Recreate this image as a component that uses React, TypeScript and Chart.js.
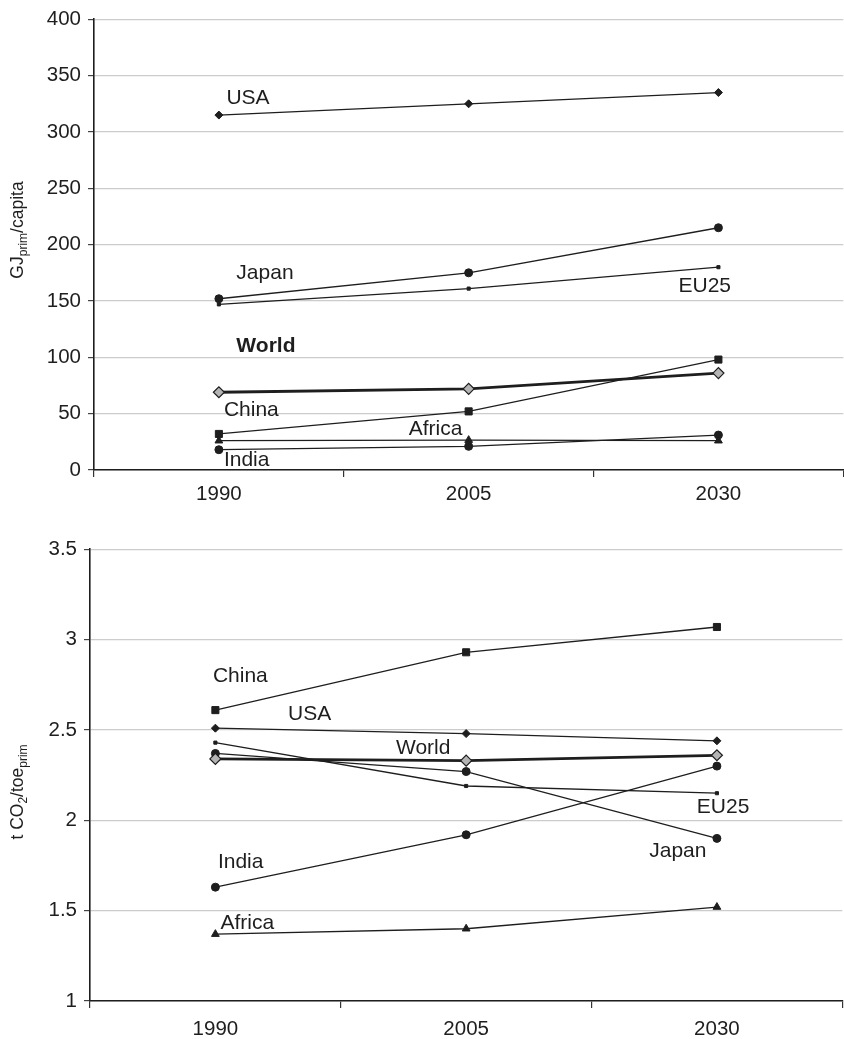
import React, { useEffect, useRef } from "react";
import { Chart, registerables } from "chart.js";
Chart.register(...registerables);

const years = ["1990", "2005", "2030"];
const regionNames = ["USA", "Japan", "EU25", "World", "China", "Africa", "India"];

// Top panel: primary energy per capita (GJ_prim/capita)
const energyUSA = [315, 325, 335];
const energyJapan = [152, 175, 215];
const energyEU25 = [147, 161, 180];
const energyWorld = [69, 72, 86];
const energyChina = [32, 52, 98];
const energyAfrica = [26, 26.5, 26];
const energyIndia = [18, 21, 31];

// Bottom panel: carbon intensity (t CO2/toe_prim)
const carbonUSA = [2.51, 2.48, 2.44];
const carbonJapan = [2.37, 2.27, 1.9];
const carbonEU25 = [2.43, 2.19, 2.15];
const carbonWorld = [2.34, 2.33, 2.36];
const carbonChina = [2.61, 2.93, 3.07];
const carbonAfrica = [1.37, 1.4, 1.52];
const carbonIndia = [1.63, 1.92, 2.3];

const energyTicks = { min: 0, max: 400, step: 50 };
const carbonTicks = { min: 1, max: 3.5, step: 0.5 };

// label placement (category index, value) for the in-chart region names
const topLabelX = [0.03, 0.07, 1.84, 0.07, 0.02, 0.76, 0.02];
const topLabelY = [330, 175, 163, 110, 53, 36, 9];
const botLabelX = [-0.01, 0.29, 0.72, 1.92, 1.73, 0.01, 0.02];
const botLabelY = [2.8, 2.59, 2.4, 2.07, 1.83, 1.77, 1.43];
const botLabelNames = ["China", "USA", "World", "EU25", "Japan", "India", "Africa"];

const FONT = "'Liberation Sans', Arial, Helvetica, sans-serif";
const INK = "#1e1e1e";

type Style = { pointStyle: string; radius: number; bg: string; width: number; bw: number };
const styles: Record<string, Style> = {
  USA: { pointStyle: "rectRot", radius: 4, bg: INK, width: 1.3, bw: 1 },
  Japan: { pointStyle: "circle", radius: 4, bg: INK, width: 1.3, bw: 1 },
  EU25: { pointStyle: "rect", radius: 2.2, bg: INK, width: 1.3, bw: 1 },
  World: { pointStyle: "rectRot", radius: 5.5, bg: "#b4b4b4", width: 2.8, bw: 1.2 },
  China: { pointStyle: "rect", radius: 5, bg: INK, width: 1.3, bw: 1 },
  Africa: { pointStyle: "triangle", radius: 4.5, bg: INK, width: 1.3, bw: 1 },
  India: { pointStyle: "circle", radius: 4, bg: INK, width: 1.3, bw: 1 },
};

function makeDatasets(values: number[][]) {
  return regionNames.map((name, i) => {
    const s = styles[name];
    return {
      label: name,
      data: values[i],
      borderColor: INK,
      backgroundColor: s.bg,
      borderWidth: s.width,
      pointStyle: s.pointStyle as any,
      pointRadius: s.radius,
      pointBackgroundColor: s.bg,
      pointBorderColor: INK,
      pointBorderWidth: s.bw,
      tension: 0,
      fill: false,
      order: name === "World" ? 0 : 1,
    };
  });
}

function makeChart(
  canvas: HTMLCanvasElement,
  values: number[][],
  ticks: { min: number; max: number; step: number },
  yWidth: number,
  xHeight: number,
  topPad: number,
  xPad: number,
  labels: { names: string[]; xs: number[]; ys: number[]; bold: string[] },
  title: (ctx: CanvasRenderingContext2D) => void
) {
  const labelPlugin = {
    id: "regionLabels",
    afterDatasetsDraw(chart: any) {
      const ctx = chart.ctx as CanvasRenderingContext2D;
      const xs = chart.scales.x;
      const ys = chart.scales.y;
      ctx.save();
      ctx.fillStyle = INK;
      ctx.textBaseline = "middle";
      ctx.textAlign = "left";
      labels.names.forEach((n, i) => {
        const bold = labels.bold.includes(n);
        ctx.font = `${bold ? "bold " : ""}21px ${FONT}`;
        const px = xs.getPixelForValue(0) + labels.xs[i] * (xs.getPixelForValue(1) - xs.getPixelForValue(0));
        const py = ys.getPixelForValue(labels.ys[i]);
        ctx.fillText(n, px, py);
      });
      title(ctx);
      ctx.restore();
    },
  };
  return new Chart(canvas, {
    type: "line",
    data: { labels: years, datasets: makeDatasets(values) as any },
    plugins: [labelPlugin],
    options: {
      animation: false,
      responsive: false,
      maintainAspectRatio: false,
      layout: { padding: { top: topPad, left: 0, right: 0, bottom: 0 } },
      plugins: { legend: { display: false }, tooltip: { enabled: false }, title: { display: false } },
      scales: {
        x: {
          type: "category",
          offset: true,
          grid: { offset: true, drawOnChartArea: false, drawTicks: true, tickLength: 7, color: "#333", lineWidth: 1.2 },
          border: { color: INK, width: 1.6 },
          ticks: { color: INK, font: { family: FONT, size: 20.5 }, padding: xPad, maxRotation: 0, autoSkip: false },
          afterFit: (s: any) => {
            s.height = xHeight;
          },
        } as any,
        y: {
          min: ticks.min,
          max: ticks.max,
          ticks: {
            stepSize: ticks.step,
            color: INK,
            font: { family: FONT, size: 20.5 },
            padding: 7,
            callback: (v: any) => String(Number(v)),
          },
          grid: { color: "#cccccc", lineWidth: 1.2, tickLength: 6, tickColor: "#444" },
          border: { color: INK, width: 1.6 },
          afterFit: (s: any) => {
            s.width = yWidth;
          },
        } as any,
      },
    },
  });
}

function drawRotTitle(ctx: CanvasRenderingContext2D, cx: number, cy: number, parts: { t: string; sub: boolean }[]) {
  const big = `17.5px ${FONT}`;
  const small = `12px ${FONT}`;
  let total = 0;
  parts.forEach((p) => {
    ctx.font = p.sub ? small : big;
    total += ctx.measureText(p.t).width;
  });
  ctx.save();
  ctx.translate(cx, cy);
  ctx.rotate(-Math.PI / 2);
  ctx.textBaseline = "alphabetic";
  ctx.textAlign = "left";
  ctx.fillStyle = INK;
  let x = -total / 2;
  parts.forEach((p) => {
    ctx.font = p.sub ? small : big;
    ctx.fillText(p.t, x, p.sub ? 10 : 6);
    x += ctx.measureText(p.t).width;
  });
  ctx.restore();
}

export default function App() {
  const topRef = useRef<HTMLCanvasElement>(null);
  const botRef = useRef<HTMLCanvasElement>(null);

  useEffect(() => {
    const c1 = makeChart(
      topRef.current!,
      [energyUSA, energyJapan, energyEU25, energyWorld, energyChina, energyAfrica, energyIndia],
      energyTicks,
      94,
      50,
      17,
      5,
      { names: regionNames, xs: topLabelX, ys: topLabelY, bold: ["World"] },
      (ctx) =>
        drawRotTitle(ctx, 17, 230, [
          { t: "GJ", sub: false },
          { t: "prim", sub: true },
          { t: "/capita", sub: false },
        ])
    );
    const c2 = makeChart(
      botRef.current!,
      [carbonUSA, carbonJapan, carbonEU25, carbonWorld, carbonChina, carbonAfrica, carbonIndia],
      carbonTicks,
      90,
      38,
      19,
      9,
      { names: botLabelNames, xs: botLabelX, ys: botLabelY, bold: [] },
      (ctx) =>
        drawRotTitle(ctx, 17, 262, [
          { t: "t CO", sub: false },
          { t: "2", sub: true },
          { t: "/toe", sub: false },
          { t: "prim", sub: true },
        ])
    );
    return () => {
      c1.destroy();
      c2.destroy();
    };
  }, []);

  return (
    <div
      style={{
        position: "fixed",
        left: 0,
        top: 0,
        width: 844,
        height: 1039,
        overflow: "hidden",
        background: "#fff",
      }}
    >
      <canvas ref={topRef} width={850} height={520} style={{ position: "absolute", left: 0, top: 0, width: 850, height: 520 }} />
      <canvas ref={botRef} width={849} height={509} style={{ position: "absolute", left: 0, top: 530, width: 849, height: 509 }} />
    </div>
  );
}
